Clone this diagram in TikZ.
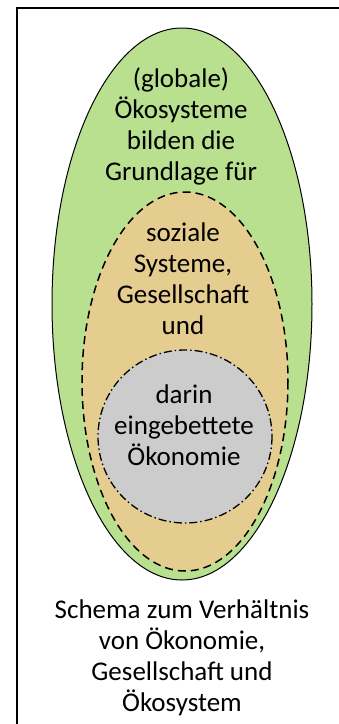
\documentclass[tikz,border=0pt]{standalone}
\usepackage{fontspec}
\setmainfont{Carlito}
\usepackage{pgf,tikz}

\begin{document}
\begin{tikzpicture}[x=1pt,y=-1pt]
\definecolor{bbddnn}{rgb}{0.72,0.88,0.56}
\definecolor{eeccnn}{rgb}{0.90,0.80,0.56}
\definecolor{cccccc}{rgb}{0.80,0.80,0.80}
\tikzset{schrift/.style={align=center,inner sep=0pt,font=\fontsize{27}{31}\selectfont}}
\useasboundingbox (0,0) rectangle (338,724);
\draw [line width=2.8pt] (17,726)-- (17,8)-- (340,8);
\draw [line width=1pt,fill=bbddnn] (182,304) ellipse (130 and 276);
\draw [line width=1.5pt,dash pattern=on 8pt off 5pt,fill=eeccnn] (185,381.5) ellipse (103 and 189.5);
\draw [line width=1.3pt,dash pattern=on 8pt off 3pt on 1.5pt off 3pt,fill=cccccc] (185,436.5) ellipse (87 and 86.5);
\node [schrift] (oekosysteme) at (181,126) {(globale)\\Ökosysteme\\bilden die\\Grundlage für};
\node [schrift] (gesellschaft) at (183,279) {soziale\\Systeme,\\Gesellschaft\\und};
\node [schrift] (oekonomie) at (184,425) {darin\\eingebettete\\Ökonomie};
\node [schrift] (schema) at (182,658) {Schema zum Verhältnis\\von Ökonomie,\\Gesellschaft und\\Ökosystem};
\end{tikzpicture}
\end{document}
